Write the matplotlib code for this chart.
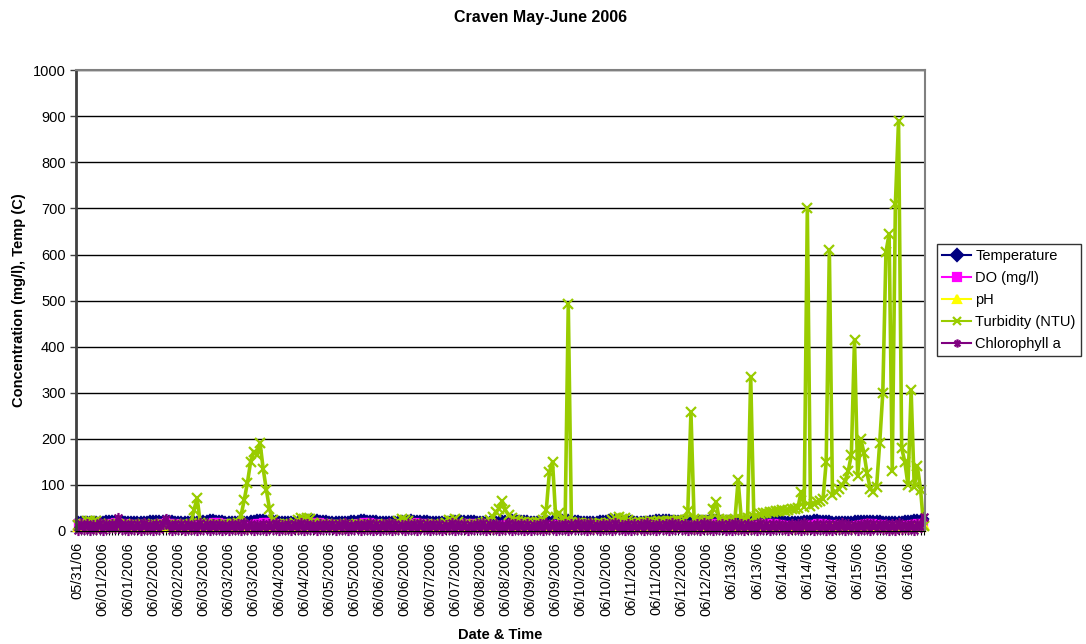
import matplotlib
matplotlib.use("Agg")
from matplotlib import pyplot as plt
from matplotlib.path import Path
import numpy as np

plt.rcParams['font.family'] = ['Liberation Sans', 'DejaVu Sans']

# Readings, 8 samples per 12 hour label step
temperature = [
    22.5, 22.1, 21.8, 21.5, 21.3, 21.2, 21.4, 21.9, 22.6, 23.3, 23.9, 24.2, 24.0, 23.6, 23.1, 22.7,
    22.3, 21.9, 21.6, 21.4, 21.3, 21.5, 22.0, 22.8, 23.6, 24.3, 24.7, 24.6, 24.1, 23.5, 23.0, 22.6,
    22.2, 21.8, 21.5, 21.3, 21.2, 21.6, 22.3, 23.1, 24.0, 24.8, 25.3, 25.1, 24.5, 23.8, 23.2, 22.7,
    22.3, 21.9, 21.7, 21.5, 21.4, 21.7, 22.4, 23.4, 24.3, 25.0, 25.5, 25.4, 24.8, 24.1, 23.4, 22.9,
    22.5, 22.1, 21.8, 21.6, 21.5, 21.8, 22.5, 23.5, 24.4, 25.2, 25.8, 25.6, 25.0, 24.2, 23.5, 23.0,
    22.6, 22.2, 21.9, 21.7, 21.6, 21.9, 22.6, 23.4, 24.2, 24.9, 25.3, 25.2, 24.7, 24.0, 23.4, 22.9,
    22.5, 22.1, 21.8, 21.6, 21.5, 21.7, 22.3, 23.1, 23.9, 24.6, 25.0, 24.9, 24.4, 23.8, 23.2, 22.8,
    22.4, 22.0, 21.7, 21.5, 21.4, 21.6, 22.2, 23.0, 23.8, 24.5, 24.9, 24.8, 24.3, 23.7, 23.1, 22.7,
    22.3, 22.0, 21.7, 21.5, 21.4, 21.7, 22.4, 23.3, 24.2, 24.9, 25.3, 25.2, 24.6, 23.9, 23.3, 22.8,
    22.4, 22.1, 21.8, 21.6, 21.5, 21.8, 22.6, 23.6, 24.6, 25.4, 25.9, 25.8, 25.2, 24.4, 23.7, 23.1,
    22.7, 22.3, 22.0, 21.8, 21.7, 22.0, 22.8, 23.8, 24.8, 25.6, 26.1, 26.0, 25.4, 24.6, 23.9, 23.3,
    22.9, 22.5, 22.2, 22.0, 21.9, 22.2, 23.0, 24.0, 25.0, 25.9, 26.4, 26.3, 25.7, 24.9, 24.2, 23.6,
    23.2, 22.8, 22.5, 22.3, 22.2, 22.4, 23.1, 24.0, 24.9, 25.6, 26.0, 25.9, 25.3, 24.6, 24.0, 23.5,
    23.1, 22.7, 22.4, 22.2, 22.1, 22.3, 22.9, 23.7, 24.5, 25.2, 25.6, 25.5, 25.0, 24.4, 23.8, 23.3,
    22.9, 22.6, 22.3, 22.1, 22.0, 22.2, 22.7, 23.4, 24.1, 24.7, 25.1, 25.0, 24.6, 24.0, 23.5, 23.0,
    22.7, 22.4, 22.1, 21.9, 21.8, 22.0, 22.5, 23.2, 23.9, 24.5, 24.9, 24.8, 24.3, 23.8, 23.3, 22.9,
    22.6, 22.3, 22.0, 21.8, 21.7, 21.9, 22.4, 23.1, 23.9, 24.6, 25.2, 25.6, 26.3, 27.0,
]

dissolved_oxygen = [
    17.8, 17.1, 16.3, 15.4, 14.6, 14.0, 13.7, 14.1, 15.0, 16.2, 17.4, 18.3, 18.7, 18.4, 17.6, 16.7,
    15.8, 15.0, 14.2, 13.5, 12.9, 12.6, 12.8, 13.6, 14.8, 16.1, 17.3, 18.1, 18.4, 18.0, 17.2, 16.3,
    15.4, 14.6, 13.8, 13.1, 12.5, 12.2, 12.5, 13.4, 14.7, 16.2, 17.5, 18.4, 18.8, 18.5, 17.6, 16.6,
    15.6, 14.7, 13.9, 13.2, 12.6, 12.3, 12.6, 13.5, 14.9, 16.4, 17.8, 18.8, 19.2, 18.8, 17.9, 16.8,
    15.8, 14.9, 14.1, 13.4, 12.8, 12.5, 12.7, 13.6, 15.0, 16.5, 17.9, 18.9, 19.3, 18.9, 18.0, 16.9,
    15.9, 15.0, 14.2, 13.5, 12.9, 12.6, 12.8, 13.6, 14.9, 16.3, 17.6, 18.5, 18.9, 18.6, 17.8, 16.8,
    15.8, 14.9, 14.1, 13.4, 12.9, 12.6, 12.8, 13.5, 14.7, 16.0, 17.2, 18.1, 18.5, 18.2, 17.4, 16.5,
    15.6, 14.8, 14.0, 13.3, 12.8, 12.5, 12.7, 13.4, 14.6, 15.9, 17.1, 17.9, 18.3, 18.0, 17.2, 16.3,
    15.4, 14.6, 13.8, 13.1, 12.6, 12.3, 12.5, 13.3, 14.5, 15.8, 17.0, 17.8, 18.2, 17.9, 17.1, 16.2,
    15.3, 14.5, 13.7, 13.0, 12.5, 12.2, 12.4, 13.2, 14.4, 15.7, 16.9, 17.7, 18.0, 17.7, 16.9, 16.0,
    15.1, 14.3, 13.5, 12.8, 12.3, 12.0, 12.2, 13.0, 14.2, 15.5, 16.7, 17.5, 17.8, 17.5, 16.7, 15.8,
    14.9, 14.1, 13.3, 12.6, 12.1, 11.8, 12.0, 12.8, 14.0, 15.3, 16.5, 17.3, 17.6, 17.3, 16.5, 15.6,
    14.8, 14.0, 13.2, 12.5, 12.0, 11.7, 11.9, 12.7, 13.9, 15.2, 16.4, 17.2, 17.5, 17.2, 16.4, 15.5,
    14.7, 13.9, 13.1, 12.4, 11.9, 11.6, 11.8, 12.6, 13.8, 15.1, 16.3, 17.1, 17.4, 17.1, 16.3, 15.4,
    14.6, 13.8, 13.0, 12.3, 11.8, 11.5, 11.7, 12.5, 13.7, 15.0, 16.2, 17.0, 17.3, 17.0, 16.2, 15.3,
    14.5, 13.7, 12.9, 12.2, 11.7, 11.4, 11.6, 12.4, 13.6, 14.9, 16.1, 16.9, 17.2, 16.9, 16.1, 15.2,
    14.4, 13.6, 12.8, 12.1, 11.6, 11.3, 11.5, 12.3, 13.5, 14.8, 16.0, 16.8, 17.1, 16.8,
]

ph = [
    7.9, 7.8, 7.7, 7.6, 7.5, 7.5, 7.5, 7.6, 7.8, 8.0, 8.2, 8.3, 8.4, 8.3, 8.2, 8.0,
    7.9, 7.8, 7.7, 7.6, 7.5, 7.4, 7.5, 7.6, 7.8, 8.0, 8.2, 8.3, 8.3, 8.2, 8.1, 8.0,
    7.9, 7.7, 7.6, 7.5, 7.5, 7.4, 7.5, 7.6, 7.8, 8.1, 8.3, 8.4, 8.4, 8.3, 8.1, 8.0,
    7.8, 7.7, 7.6, 7.5, 7.4, 7.4, 7.5, 7.7, 7.9, 8.1, 8.3, 8.4, 8.4, 8.3, 8.1, 7.9,
    7.8, 7.7, 7.6, 7.5, 7.5, 7.4, 7.5, 7.7, 7.9, 8.1, 8.3, 8.4, 8.5, 8.3, 8.1, 8.0,
    7.8, 7.7, 7.6, 7.5, 7.5, 7.5, 7.6, 7.7, 7.9, 8.1, 8.2, 8.3, 8.4, 8.3, 8.1, 8.0,
    7.9, 7.8, 7.7, 7.6, 7.5, 7.5, 7.6, 7.7, 7.9, 8.0, 8.2, 8.3, 8.3, 8.2, 8.1, 8.0,
    7.9, 7.8, 7.7, 7.6, 7.5, 7.5, 7.5, 7.7, 7.8, 8.0, 8.2, 8.3, 8.3, 8.2, 8.1, 7.9,
    7.8, 7.7, 7.6, 7.5, 7.5, 7.4, 7.5, 7.6, 7.8, 8.0, 8.2, 8.3, 8.3, 8.2, 8.0, 7.9,
    7.8, 7.7, 7.6, 7.5, 7.4, 7.4, 7.5, 7.6, 7.8, 8.0, 8.1, 8.2, 8.3, 8.2, 8.0, 7.9,
    7.8, 7.7, 7.6, 7.5, 7.4, 7.4, 7.5, 7.6, 7.8, 8.0, 8.1, 8.2, 8.2, 8.1, 8.0, 7.9,
    7.8, 7.7, 7.6, 7.5, 7.4, 7.4, 7.5, 7.6, 7.7, 7.9, 8.1, 8.2, 8.2, 8.1, 8.0, 7.9,
    7.8, 7.7, 7.6, 7.5, 7.4, 7.4, 7.4, 7.5, 7.7, 7.9, 8.0, 8.1, 8.2, 8.1, 7.9, 7.8,
    7.7, 7.6, 7.5, 7.4, 7.4, 7.3, 7.4, 7.5, 7.7, 7.9, 8.0, 8.1, 8.1, 8.0, 7.9, 7.8,
    7.7, 7.6, 7.5, 7.4, 7.3, 7.3, 7.4, 7.5, 7.6, 7.8, 7.9, 8.0, 8.1, 8.0, 7.9, 7.8,
    7.7, 7.6, 7.5, 7.4, 7.3, 7.3, 7.3, 7.4, 7.6, 7.8, 7.9, 8.0, 8.0, 7.9, 7.8, 7.7,
    7.6, 7.5, 7.4, 7.4, 7.3, 7.3, 7.3, 7.4, 7.6, 7.7, 7.9, 8.0, 8.0, 12.0,
]

turbidity = [
    14, 15, 16, 21, 22, 20, 21, 16, 14, 13, 15, 14, 13, 15, 14, 13,
    14, 13, 15, 14, 13, 12, 14, 13, 15, 14, 13, 14, 12, 13, 14, 13,
    14, 13, 15, 14, 16, 45, 72, 18, 15, 14, 13, 14, 15, 14, 13, 15,
    14, 15, 16, 18, 35, 68, 105, 150, 172, 165, 192, 135, 90, 48, 24, 16,
    15, 14, 15, 14, 15, 17, 24, 28, 26, 29, 25, 18, 15, 14, 15, 14,
    13, 14, 15, 14, 13, 14, 15, 14, 13, 14, 13, 15, 14, 13, 14, 13,
    14, 13, 15, 14, 13, 14, 22, 26, 24, 21, 15, 14, 13, 14, 15, 14,
    13, 14, 15, 14, 15, 18, 24, 22, 25, 19, 15, 14, 13, 14, 15, 14,
    15, 17, 20, 24, 30, 42, 48, 65, 45, 35, 28, 24, 22, 20, 19, 18,
    18, 17, 19, 20, 23, 45, 128, 150, 30, 40, 25, 21, 492, 19, 18, 17,
    17, 16, 17, 16, 15, 16, 17, 16, 17, 18, 24, 28, 30, 27, 29, 23,
    19, 18, 17, 18, 19, 20, 21, 20, 19, 21, 22, 20, 21, 22, 21, 23,
    22, 24, 43, 258, 27, 23, 22, 21, 23, 24, 47, 63, 25, 23, 24, 22,
    24, 26, 110, 27, 26, 28, 335, 30, 33, 36, 38, 40, 42, 41, 44, 43,
    45, 44, 46, 48, 47, 50, 85, 52, 700, 55, 58, 62, 66, 70, 150, 610,
    78, 84, 92, 100, 108, 130, 165, 415, 120, 200, 170, 125, 92, 85, 95, 190,
    300, 605, 645, 130, 710, 890, 180, 150, 100, 305, 95, 140, 90, 10,
]

chlorophyll = [
    3, 15, 5, 16, 2, 14, 4, 17, 3, 15, 6, 16, 7, 28, 4, 15,
    2, 16, 4, 15, 3, 17, 5, 14, 2, 16, 4, 15, 25, 14, 3, 16,
    4, 15, 2, 16, 5, 14, 3, 17, 4, 15, 2, 16, 5, 15, 3, 14,
    2, 16, 4, 15, 3, 17, 5, 15, 2, 14, 4, 16, 3, 15, 5, 17,
    3, 14, 5, 16, 2, 15, 4, 17, 3, 16, 5, 14, 2, 15, 4, 16,
    4, 16, 3, 15, 5, 17, 2, 14, 4, 16, 3, 15, 5, 17, 2, 15,
    3, 15, 4, 17, 2, 16, 5, 14, 3, 15, 4, 16, 2, 17, 5, 15,
    2, 16, 5, 15, 3, 14, 4, 17, 2, 16, 5, 15, 3, 14, 4, 16,
    4, 17, 2, 15, 5, 16, 3, 14, 4, 17, 2, 15, 5, 16, 3, 15,
    3, 14, 4, 16, 2, 17, 5, 15, 3, 14, 4, 16, 2, 15, 5, 17,
    5, 15, 3, 17, 4, 14, 2, 16, 5, 15, 3, 17, 4, 14, 2, 16,
    2, 15, 4, 16, 3, 17, 5, 14, 2, 15, 4, 16, 3, 17, 5, 15,
    4, 16, 2, 14, 5, 15, 3, 17, 4, 16, 2, 14, 5, 15, 3, 16,
    3, 17, 5, 15, 2, 16, 4, 14, 3, 17, 5, 15, 2, 16, 4, 15,
    5, 14, 3, 16, 4, 15, 2, 17, 5, 14, 3, 16, 4, 15, 2, 16,
    2, 15, 4, 17, 3, 16, 5, 14, 2, 15, 4, 17, 3, 16, 5, 15,
    4, 16, 3, 15, 2, 17, 5, 14, 4, 16, 3, 15, 8, 30,
]

date_labels = [
    '05/31/06', '06/01/2006', '06/01/2006', '06/02/2006', '06/02/2006',
    '06/03/2006', '06/03/2006', '06/03/2006', '06/04/2006', '06/04/2006',
    '06/05/2006', '06/05/2006', '06/06/2006', '06/06/2006', '06/07/2006',
    '06/07/2006', '06/08/2006', '06/08/2006', '06/09/2006', '06/09/2006',
    '06/10/2006', '06/10/2006', '06/11/2006', '06/11/2006', '06/12/2006',
    '06/12/2006', '06/13/06', '06/13/06', '06/14/06', '06/14/06',
    '06/14/06', '06/15/06', '06/15/06', '06/16/06',
]
LABEL_STEP = 8

# asterisk marker: vertical bar plus an x
star = Path([(0, -1), (0, 1), (-0.7, -0.7), (0.7, 0.7), (-0.7, 0.7), (0.7, -0.7)],
            [Path.MOVETO, Path.LINETO] * 3)

# name, values, colour, marker, marker size, line width
series = [
    ('Temperature', temperature, '#000080', 'D', 4, 2.2),
    ('DO (mg/l)', dissolved_oxygen, '#FF00FF', 's', 5, 2.2),
    ('pH', ph, '#FFFF00', '^', 6, 2.2),
    ('Turbidity (NTU)', turbidity, '#99CC00', 'x', 6.5, 2.6),
    ('Chlorophyll a', chlorophyll, '#800080', star, 8, 4.0),
]

fig = plt.figure(figsize=(10.86, 6.44), dpi=100)
ax = fig.add_axes([0.070, 0.1755, 0.782, 0.7155])

for name, values, color, marker, msize, lw in series:
    x = np.arange(len(values))
    ax.plot(x, values, color=color, lw=lw, marker=marker, markersize=msize,
            markeredgecolor=color, markerfacecolor=color, mew=1.6, label=name,
            clip_on=False)

n = len(turbidity)
ax.set_xlim(-0.5, n - 0.5)
ax.set_ylim(0, 1000)
ax.set_yticks(np.arange(0, 1001, 100))
ax.set_xticks(np.arange(len(date_labels)) * LABEL_STEP)
ax.set_xticklabels(date_labels, rotation=90, fontsize=10.5)
ax.set_xticks(np.arange(n), minor=True)
ax.tick_params(axis='x', which='minor', length=3, width=0.8, color='black')
ax.tick_params(axis='x', which='major', length=3, width=0.8, pad=5)
ax.tick_params(axis='y', labelsize=10.5, length=4, width=1, color='#404040')

ax.grid(axis='y', color='black', lw=1)
ax.set_axisbelow(True)
for side in ['top', 'right']:
    ax.spines[side].set_color('#808080')
    ax.spines[side].set_linewidth(1.5)
ax.spines['left'].set_color('#404040')
ax.spines['left'].set_linewidth(2)
ax.spines['bottom'].set_color('black')

ax.set_ylabel('Concentration (mg/l), Temp (C)', fontsize=10.5, fontweight='bold', labelpad=5)
ax.set_xlabel('Date & Time', fontsize=10.5, fontweight='bold', labelpad=9)
fig.suptitle('Craven May-June 2006', fontsize=11.5, fontweight='bold', x=0.498, y=0.985)

leg = fig.legend(loc='upper left', bbox_to_anchor=(0.863, 0.621), borderaxespad=0,
                 fontsize=10.5, frameon=True, fancybox=False, edgecolor='black',
                 borderpad=0.35, labelspacing=0.55, handlelength=2.0, handletextpad=0.25)
leg.get_frame().set_linewidth(1)
for line in leg.get_lines():
    line.set_linewidth(1.5)
    line.set_markersize(6)

fig.savefig('out.png', dpi=100)
